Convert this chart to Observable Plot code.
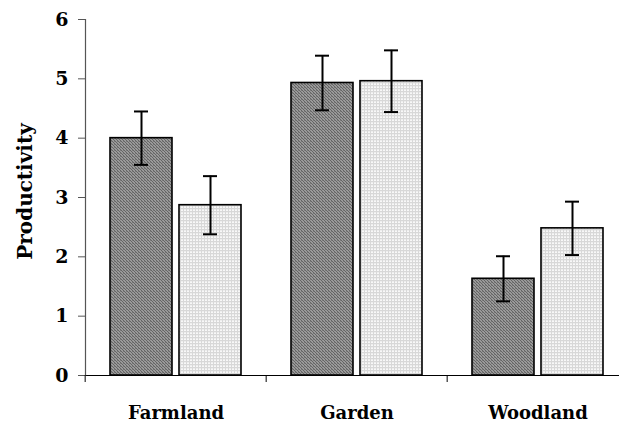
<!DOCTYPE html>
<html>
<head>
<meta charset="utf-8">
<script src="https://cdn.jsdelivr.net/npm/d3@7"></script>
<script src="https://cdn.jsdelivr.net/npm/@observablehq/plot@0.6"></script>
<style>
  html, body { margin: 0; padding: 0; background: #fff; overflow: hidden; }
  #chart { width: 619px; height: 427px; overflow: hidden; }
  svg { overflow: hidden; }
</style>
</head>
<body>
<div id="chart"></div>
<script>
// ---- data ----
const categories = ["Farmland", "Garden", "Woodland"];
const groups = ["dark", "light"];
const meanDark = [4.00, 4.93, 1.63];
const errDark = [0.45, 0.46, 0.38];
const meanLight = [2.87, 4.96, 2.48];
const errLight = [0.49, 0.52, 0.45];
const yTicks = [0, 1, 2, 3, 4, 5, 6];
const yLabel = "Productivity";

const rows = categories.flatMap((c, i) => [
  {category: c, group: "dark", mean: meanDark[i], err: errDark[i]},
  {category: c, group: "light", mean: meanLight[i], err: errLight[i]}
]);

const W = 619, H = 427;
const mL = 84, mR = -10, mT = 19, mB = 52;
const halfStep = (W - mL - mR) / categories.length / 2;
const font = "DejaVu Serif, serif";

const plot = Plot.plot({
  width: W,
  height: H,
  marginLeft: mL,
  marginRight: mR,
  marginTop: mT,
  marginBottom: mB,
  style: {fontFamily: font, fontSize: "18px", fontWeight: "bold", color: "#000", background: "#fff"},
  fx: {domain: categories, padding: 0, label: null},
  x: {domain: groups, paddingInner: 0.1, paddingOuter: 0.355, axis: null},
  y: {domain: [0, 6], ticks: yTicks, label: null},
  marks: [
    Plot.barY(rows.filter(d => d.group === "dark"), {fx: "category", x: "group", y: "mean", fill: "url(#patDark)", stroke: "#000", strokeWidth: 1.6}),
    Plot.barY(rows.filter(d => d.group === "light"), {fx: "category", x: "group", y: "mean", fill: "url(#patLight)", stroke: "#000", strokeWidth: 1.6}),
    Plot.ruleX(rows, {fx: "category", x: "group", y1: d => d.mean - d.err, y2: d => d.mean + d.err, stroke: "#000", strokeWidth: 2}),
    Plot.tickY(rows, {fx: "category", x: "group", y: d => d.mean + d.err, stroke: "#000", strokeWidth: 2, insetLeft: 24, insetRight: 24}),
    Plot.tickY(rows, {fx: "category", x: "group", y: d => d.mean - d.err, stroke: "#000", strokeWidth: 2, insetLeft: 24, insetRight: 24}),
    Plot.ruleY([0], {stroke: "#000", strokeWidth: 1.2}),
    Plot.frame({anchor: "left", facet: "super", stroke: "#555", strokeWidth: 1.2}),
    Plot.axisY({ticks: yTicks, tickFormat: d3.format("d"), tickSize: 7, tickPadding: 10, stroke: "#555", fill: "#000", fontWeight: "bold", fontSize: 19, label: null}),
    Plot.axisFx({anchor: "bottom", tickSize: 7, tickFormat: () => "", dx: -halfStep, stroke: "#000", label: null}),
    Plot.axisFx({anchor: "bottom", tickSize: 0, tickPadding: 31, fill: "#000", fontWeight: "bold", fontSize: 18, label: null}),
    Plot.text([yLabel], {frameAnchor: "left", facet: "super", rotate: -90, dx: -60, dy: -6, lineAnchor: "middle", textAnchor: "middle", fontWeight: "bold", fontSize: 20, fill: "#000"})
  ]
});

// pattern fills for the bars
const ns = "http://www.w3.org/2000/svg";
const defs = document.createElementNS(ns, "defs");
defs.innerHTML = `
  <pattern id="patDark" patternUnits="userSpaceOnUse" width="3" height="3">
    <rect width="3" height="3" fill="#9a9a9a"/>
    <rect x="0" y="0" width="1" height="1" fill="#646464"/>
    <rect x="1" y="1" width="1" height="1" fill="#646464"/>
    <rect x="2" y="2" width="1" height="1" fill="#646464"/>
    <rect x="2" y="0" width="1" height="1" fill="#7c7c7c"/>
  </pattern>
  <pattern id="patLight" patternUnits="userSpaceOnUse" width="3" height="3">
    <rect width="3" height="3" fill="#d8d8d8"/>
    <rect x="0" y="0" width="2" height="1" fill="#f8f8f8"/>
    <rect x="0" y="2" width="2" height="1" fill="#eeeeee"/>
  </pattern>`;
plot.insertBefore(defs, plot.firstChild);

document.getElementById("chart").appendChild(plot);
</script>
</body>
</html>
